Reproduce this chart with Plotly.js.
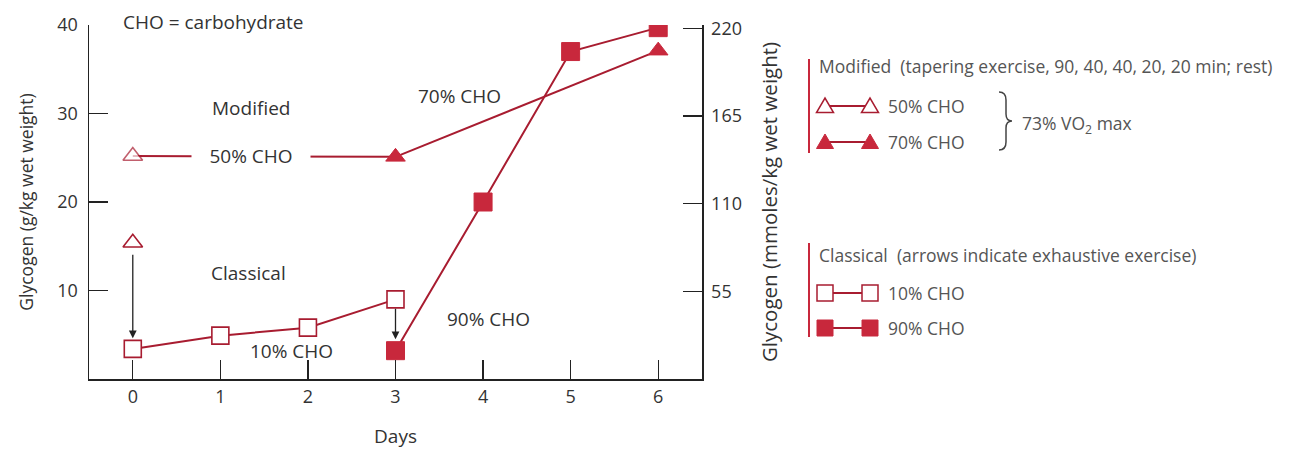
<!DOCTYPE html>
<html>
<head>
<meta charset="utf-8">
<script src="https://cdn.plot.ly/plotly-3.0.1.min.js"></script>
<style>html,body{margin:0;padding:0;background:#fff}#chart{width:1295px;height:449px}</style>
</head>
<body>
<div id="chart"></div>
<script>
// ---- data ----
const days = [0, 1, 2, 3, 4, 5, 6];
const dayTickLabels = ['0', '1', '2', '3', '4', '5', '6'];
const classicalLowDays = [0, 1, 2, 3];
const classicalLowCHO = [3.4, 4.9, 5.8, 9.0];        // 10% CHO (g/kg)
const classicalHighDays = [3, 4, 5, 6];
const classicalHighCHO = [3.2, 20.0, 37.0, 39.7];    // 90% CHO (g/kg)
const modified50Days = [0, 3];
const modified50CHO = [25.2, 25.1];                  // 50% CHO
const modified70Days = [3, 6];
const modified70CHO = [25.1, 37.1];                  // 70% CHO
const classicalStartDay = [0];
const classicalStartCHO = [15.4];                    // before exhaustive exercise
const leftTicks = [10, 20, 30, 40];
const rightTicks = [55, 110, 165, 220];
const arrowFrom = [14.2, 8.1];                       // exhaustive exercise arrows
const arrowTo = [4.6, 4.5];
const arrowDays = [0, 3];

const RED = '#c8283c';
const LINE = '#a81c30';
const TXT = '#333333';
const LEG = '#555555';
const FONT = 'Open Sans, sans-serif';

// plot-area geometry (pixels) used for legend placement outside the axes
const L = 89, R = 702, T = 25, B = 379;
const px = v => (v - L) / (R - L);
const py = v => (B - v) / (B - T);

const traces = [
  {x: modified50Days, y: modified50CHO, name: '50% CHO', mode: 'lines+markers', type: 'scatter',
   line: {color: LINE, width: 2},
   marker: {symbol: 'triangle-up', size: [17, 0], color: '#ffffff', line: {color: LINE, width: 1.6}}},
  {x: modified70Days, y: modified70CHO, name: '70% CHO', mode: 'lines+markers', type: 'scatter',
   line: {color: LINE, width: 2},
   marker: {symbol: 'triangle-up', size: 17, color: RED, line: {color: RED, width: 1}}},
  {x: classicalLowDays, y: classicalLowCHO, name: '10% CHO', mode: 'lines+markers', type: 'scatter',
   line: {color: LINE, width: 2},
   marker: {symbol: 'square', size: 17, color: '#ffffff', line: {color: LINE, width: 1.6}}},
  {x: classicalHighDays, y: classicalHighCHO, name: '90% CHO', mode: 'lines+markers', type: 'scatter',
   line: {color: LINE, width: 2},
   marker: {symbol: 'square', size: 18, color: RED, line: {color: RED, width: 1}}},
  {x: classicalStartDay, y: classicalStartCHO, name: 'Classical start', mode: 'markers', type: 'scatter',
   marker: {symbol: 'triangle-up', size: 17, color: '#ffffff', line: {color: LINE, width: 1.6}}},
  {x: [], y: [], yaxis: 'y2', type: 'scatter', showlegend: false, hoverinfo: 'skip'}
];

const ann = [];
const MAINSIZE = 19;
const txt = (text, x, y, opts = {}) => ann.push(Object.assign({
  text, x, y, xref: 'x', yref: 'y', showarrow: false,
  font: {family: FONT, size: MAINSIZE, color: TXT}}, opts));

ann.push({text: 'CHO = carbohydrate', x: px(121), y: py(22), xref: 'paper', yref: 'paper',
  xanchor: 'left', yanchor: 'middle', showarrow: false, font: {family: FONT, size: MAINSIZE, color: TXT}});
txt('Modified', 1.35, 30.6);
txt('50% CHO', 1.35, 25.15, {bgcolor: '#ffffff', width: 118, borderpad: 0});
txt('Classical', 1.32, 12.0);
txt('10% CHO', 1.81, 3.2);
txt('70% CHO', 3.73, 32.0);
txt('90% CHO', 4.06, 6.8);

arrowDays.forEach((d, i) => ann.push({
  x: d, y: arrowTo[i], ax: d, ay: arrowFrom[i], xref: 'x', yref: 'y', axref: 'x', ayref: 'y',
  showarrow: true, arrowhead: 2, arrowsize: 1.2, arrowwidth: 1.3, arrowcolor: '#222', text: ''
}));

// legend text
const legTxt = (text, x, y, opts = {}) => ann.push(Object.assign({
  text, x: px(x), y: py(y), xref: 'paper', yref: 'paper', xanchor: 'left', yanchor: 'middle', showarrow: false,
  font: {family: FONT, size: 17.5, color: LEG}}, opts));
legTxt('Modified  (tapering exercise, 90, 40, 40, 20, 20 min; rest)', 817, 66);
legTxt('50% CHO', 886, 106);
legTxt('70% CHO', 886, 142);
legTxt('73% VO<sub>2</sub> max', 1020, 124);
legTxt('Classical  (arrows indicate exhaustive exercise)', 817, 255);
legTxt('10% CHO', 886, 293);
legTxt('90% CHO', 886, 328);

// legend glyph shapes
const shapes = [];
const pline = (x0, y0, x1, y1, color, w) => shapes.push({type: 'line', xref: 'paper', yref: 'paper',
  x0: px(x0), y0: py(y0), x1: px(x1), y1: py(y1), line: {color, width: w}});
const pglyph = (path, cx, cy, fill, stroke, w) => shapes.push({type: 'path', xref: 'paper', yref: 'paper',
  xsizemode: 'pixel', ysizemode: 'pixel', xanchor: px(cx), yanchor: py(cy), path,
  fillcolor: fill, line: {color: stroke, width: w}});
const TRI = 'M -8.5 -6.5 L 8.5 -6.5 L 0 8 Z';
const SQ = 'M -8 -8 L 8 -8 L 8 8 L -8 8 Z';

[[59, 153, 106], [243, 337, 292]].forEach(([a, b, c]) => {
  pline(809, a, 809, b, RED, 2);
  pglyph('M 0 5 A 5 5 0 0 0 0 -5 Z', 809, c, RED, RED, 0.5);
});
pline(825, 106, 870, 106, LINE, 2);
pline(825, 142, 870, 142, LINE, 2);
pline(825, 293, 870, 293, LINE, 2);
pline(825, 328, 870, 328, LINE, 2);
pglyph(TRI, 825, 106, '#ffffff', LINE, 1.5);
pglyph(TRI, 870, 106, '#ffffff', LINE, 1.5);
pglyph(TRI, 825, 142, RED, RED, 1);
pglyph(TRI, 870, 142, RED, RED, 1);
pglyph(SQ, 825, 293, '#ffffff', LINE, 1.5);
pglyph(SQ, 870, 293, '#ffffff', LINE, 1.5);
pglyph(SQ, 825, 328, RED, RED, 1);
pglyph(SQ, 870, 328, RED, RED, 1);
// brace
shapes.push({type: 'path', xref: 'paper', yref: 'paper', xsizemode: 'pixel', ysizemode: 'pixel',
  xanchor: px(1003), yanchor: py(121),
  path: 'M -4 29 Q 3 29 3 21 L 3 7 Q 3 0 9 0 Q 3 0 3 -7 L 3 -21 Q 3 -29 -4 -29',
  line: {color: '#444', width: 1.5}});

const axisFont = {family: FONT, size: 18, color: TXT};
const layout = {
  width: 1295, height: 449,
  margin: {l: L, r: 1295 - R, t: T, b: 449 - B},
  paper_bgcolor: '#ffffff', plot_bgcolor: '#ffffff',
  showlegend: false,
  font: {family: FONT, color: TXT},
  xaxis: {
    range: [-0.5, 6.5], tickvals: days, ticktext: dayTickLabels,
    showgrid: false, zeroline: false, showline: true, linecolor: '#222', linewidth: 1.5,
    ticks: 'inside', ticklen: 19, tickwidth: 1.3, tickcolor: '#222', ticklabelstandoff: 1,
    tickfont: axisFont,
    title: {text: 'Days', font: {family: FONT, size: 19, color: TXT}, standoff: 24}, automargin: false
  },
  yaxis: {
    range: [0, 40], tickvals: leftTicks,
    showgrid: false, zeroline: false, showline: true, linecolor: '#222', linewidth: 1.5,
    ticks: 'inside', ticklen: 19, tickwidth: 1.3, tickcolor: '#222', ticklabelstandoff: 6,
    tickfont: axisFont,
    title: {text: 'Glycogen (g/kg wet weight)', font: {family: FONT, size: 17.5, color: TXT}, standoff: 19}, automargin: false
  },
  yaxis2: {
    overlaying: 'y', side: 'right', range: [0, 222], tickvals: rightTicks,
    showgrid: false, zeroline: false, showline: true, linecolor: '#222', linewidth: 1.5,
    ticks: 'inside', ticklen: 19, tickwidth: 1.3, tickcolor: '#222', ticklabelstandoff: 4,
    tickfont: axisFont,
    title: {text: 'Glycogen (mmoles/kg wet weight)', font: {family: FONT, size: 20.5, color: TXT}, standoff: 21}, automargin: false
  },
  annotations: ann,
  shapes: shapes
};

Plotly.newPlot('chart', traces, layout, {displayModeBar: false, staticPlot: true});
</script>
</body>
</html>
